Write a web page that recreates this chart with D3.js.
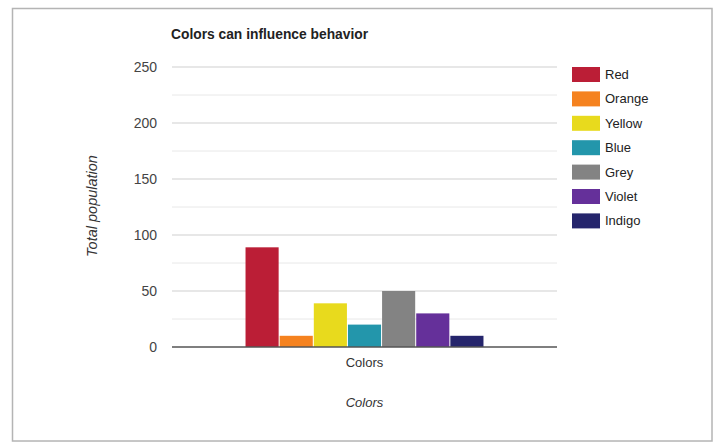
<!DOCTYPE html>
<html><head><meta charset="utf-8">
<script src="https://cdn.jsdelivr.net/npm/d3@7/dist/d3.min.js"></script>
<style>
body{margin:0;background:#fff;}
svg{display:block;font-family:"Liberation Sans",Arial,sans-serif;}
</style></head>
<body><svg id="c" width="720" height="443"></svg>
<script>
const categories = ["Colors"];
const seriesNames = ["Red","Orange","Yellow","Blue","Grey","Violet","Indigo"];
const seriesValues = [89,10,39,20,50,30,10];
const seriesColors = ["#bb1e36","#f5821f","#e8da1d","#2396ab","#838383","#65309a","#25256c"];
const yTicks = [0,50,100,150,200,250];
const yMinorTicks = [25,75,125,175,225];
const titleText = "Colors can influence behavior";
const yTitle = "Total population";
const xTitle = "Colors";

const svg = d3.select("#c");
const m = {left:172, right:557, top:67, bottom:347};

svg.append("rect").attr("x",12.5).attr("y",8.5).attr("width",699.5).attr("height",432.5)
  .attr("fill","#fff").attr("stroke","#b4b4b4").attr("stroke-width",1.5);

const y = d3.scaleLinear().domain([0,250]).range([m.bottom,m.top]);
const x0 = d3.scaleBand().domain(categories).range([m.left,m.right]).paddingInner(0).paddingOuter(0.309);
const x1 = d3.scaleBand().domain(seriesNames).range([0,x0.bandwidth()]).paddingInner(0.03).paddingOuter(0);

// minor grid
svg.append("g").selectAll("line").data(yMinorTicks).join("line")
  .attr("x1",m.left).attr("x2",m.right).attr("y1",d=>y(d)).attr("y2",d=>y(d))
  .attr("stroke","#e8e8e8").attr("stroke-width",1);
// major grid
svg.append("g").selectAll("line").data(yTicks.filter(d=>d>0)).join("line")
  .attr("x1",m.left).attr("x2",m.right).attr("y1",d=>y(d)).attr("y2",d=>y(d))
  .attr("stroke","#cfcfcf").attr("stroke-width",1);

// y axis labels
const yAxis = d3.axisLeft(y).tickValues(yTicks).tickSize(0).tickPadding(15);
const ga = svg.append("g").attr("transform",`translate(${m.left},0)`).call(yAxis);
ga.select(".domain").remove();
ga.selectAll("text").attr("font-size",14).attr("fill","#444").attr("font-family","Liberation Sans, Arial, sans-serif");

// bars
const g = svg.append("g").attr("transform",`translate(${x0("Colors")},0)`);
g.selectAll("rect").data(seriesNames).join("rect")
  .attr("x",(d)=>x1(d)).attr("width",x1.bandwidth())
  .attr("y",(d,i)=>y(seriesValues[i])).attr("height",(d,i)=>y(0)-y(seriesValues[i]))
  .attr("fill",(d,i)=>seriesColors[i]);

// baseline
svg.append("line").attr("x1",m.left).attr("x2",m.right).attr("y1",y(0)).attr("y2",y(0))
  .attr("stroke","#555").attr("stroke-width",1.5);

// x category label
const xAxis = d3.axisBottom(x0).tickSize(0).tickPadding(11);
const gx = svg.append("g").attr("transform",`translate(0,${y(0)})`).call(xAxis);
gx.select(".domain").remove();
gx.selectAll("text").attr("font-size",13).attr("fill","#333").attr("font-family","Liberation Sans, Arial, sans-serif");

// title
svg.append("text").attr("x",171).attr("y",39).text(titleText)
  .attr("font-size",13.8).attr("font-weight","bold").attr("fill","#222");

// axis titles
svg.append("text").attr("transform","translate(97,206) rotate(-90)").attr("text-anchor","middle")
  .attr("font-size",14.5).attr("font-style","italic").attr("fill","#333").text(yTitle);
svg.append("text").attr("x",x0("Colors")+x0.bandwidth()/2).attr("y",407).attr("text-anchor","middle")
  .attr("font-size",13).attr("font-style","italic").attr("fill","#333").text(xTitle);

// legend
const lg = svg.append("g").attr("transform","translate(572,67)");
const rows = lg.selectAll("g").data(seriesNames).join("g")
  .attr("transform",(d,i)=>`translate(0,${i*24.4})`);
rows.append("rect").attr("width",28).attr("height",15).attr("fill",(d,i)=>seriesColors[i]);
rows.append("text").attr("x",33).attr("y",12).attr("font-size",13).attr("fill","#222").text(d=>d);
</script></body></html>
